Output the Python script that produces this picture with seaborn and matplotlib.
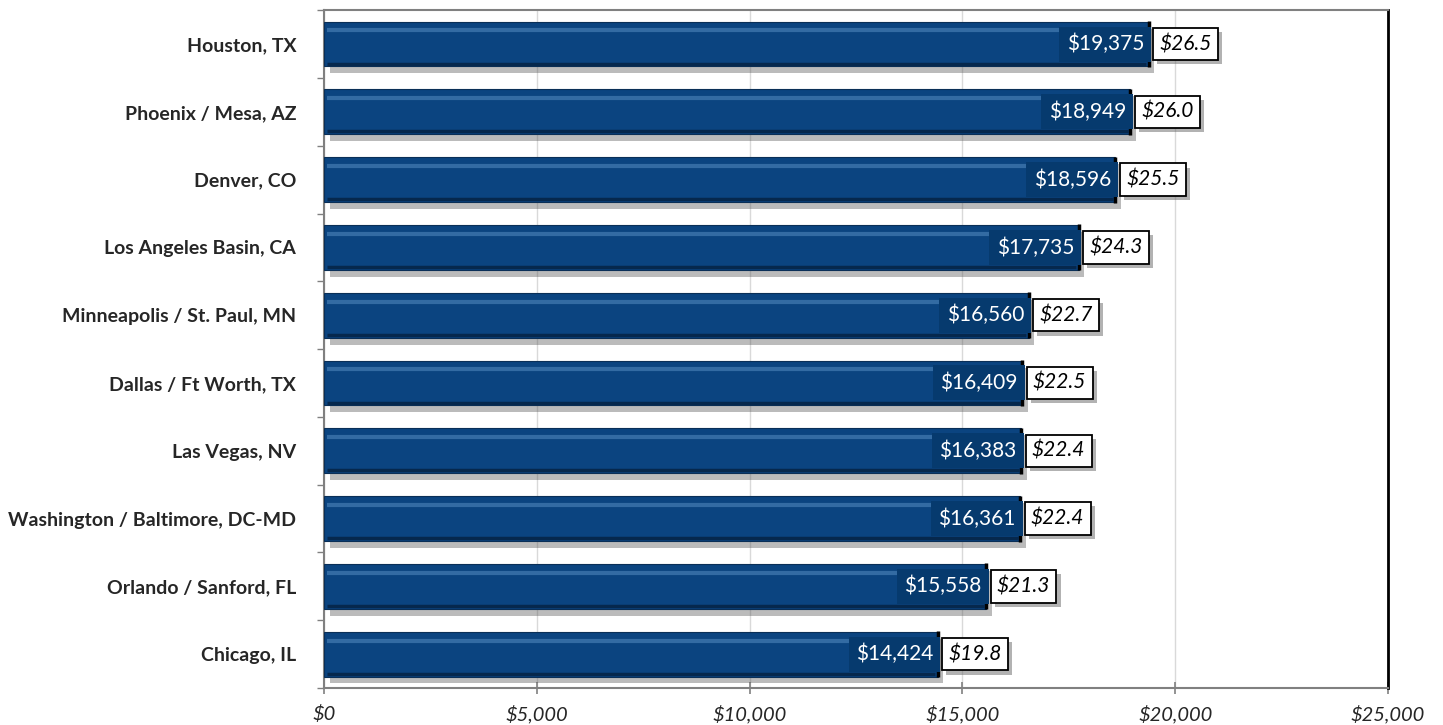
import numpy as np
import pandas as pd
import matplotlib
matplotlib.use("Agg")
import matplotlib.pyplot as plt
import matplotlib.patheffects as pe
from matplotlib.ticker import FuncFormatter, MultipleLocator
import seaborn as sns

# Данные
cities = ["Houston, TX", "Phoenix / Mesa, AZ", "Denver, CO", "Los Angeles Basin, CA",
          "Minneapolis / St. Paul, MN", "Dallas / Ft Worth, TX", "Las Vegas, NV",
          "Washington / Baltimore, DC-MD", "Orlando / Sanford, FL", "Chicago, IL"]
cost = [19375, 18949, 18596, 17735, 16560, 16409, 16383, 16361, 15558, 14424]
ratio = [26.5, 26.0, 25.5, 24.3, 22.7, 22.5, 22.4, 22.4, 21.3, 19.8]

sns.set_theme(style="white")
plt.rcParams['font.family'] = ['Lato', 'DejaVu Sans']

df = pd.DataFrame({'city': cities, 'cost': cost, 'ratio': ratio})

fig = plt.figure(figsize=(14.43, 7.25), dpi=100)
ax = fig.add_axes([0.2245, 0.051, 0.7374, 0.935])

BAR = '#0b4480'
sns.barplot(data=df, y='city', x='cost', orient='h', color=BAR, saturation=1,
            width=0.66, ax=ax, zorder=3)

shadow = [pe.SimplePatchShadow(offset=(4, -5), shadow_rgbFace='#555555', alpha=0.4), pe.Normal()]
for p in ax.patches:
    p.set_edgecolor('#0a2f57')
    p.set_linewidth(0.8)
    p.set_path_effects(shadow)

# блик сверху бара
for i, v in enumerate(cost):
    ax.plot([60, v - 60], [i - 0.2, i - 0.2], color='#3e76ad', lw=3, alpha=0.8,
            solid_capstyle='butt', zorder=4)
    ax.plot([60, v - 60], [i + 0.29, i + 0.29], color='#06284d', lw=2.5,
            solid_capstyle='butt', zorder=4)

# торец бара
ax.vlines(cost, np.arange(len(cost)) - 0.34, np.arange(len(cost)) + 0.34,
          color='black', lw=2.5, zorder=5)

for i, (v, r) in enumerate(zip(cost, ratio)):
    ax.text(v - 110, i, f"${v:,}", ha='right', va='center', color='white', fontsize=15,
            zorder=6, bbox=dict(boxstyle='square,pad=0.35', fc='#063a6e', ec='none'))
    t = ax.text(v + 250, i, f"${r:.1f}", ha='left', va='center', color='black', fontsize=15,
                style='italic', zorder=6,
                bbox=dict(boxstyle='square,pad=0.3', fc='white', ec='black', lw=1.3))
    t.get_bbox_patch().set_path_effects(
        [pe.SimplePatchShadow(offset=(3, -3), shadow_rgbFace='#666666', alpha=0.5), pe.Normal()])

ax.set_xlim(0, 25000)
ax.set_ylim(9.5, -0.5)
ax.xaxis.set_major_locator(MultipleLocator(5000))
ax.xaxis.set_major_formatter(FuncFormatter(lambda x, _: f"${x:,.0f}"))
ax.grid(axis='x', color='#d9d9d9', lw=1, zorder=0)
ax.set_axisbelow(True)
ax.set_xlabel('')
ax.set_ylabel('')

for lab in ax.get_xticklabels():
    lab.set_fontstyle('italic')
    lab.set_fontsize(14.5)
for lab in ax.get_yticklabels():
    lab.set_fontweight('bold')
    lab.set_fontsize(14)

ax.tick_params(axis='x', direction='inout', length=8, width=1.2, color='#808080', pad=8, bottom=True)
ax.tick_params(axis='y', which='major', length=0, pad=20)
ax.set_yticks(np.arange(-0.5, 10, 1), minor=True)
ax.tick_params(axis='y', which='minor', direction='out', length=5, width=1, color='#808080', left=True)

for s in ['left', 'bottom', 'top']:
    ax.spines[s].set_color('#808080')
    ax.spines[s].set_linewidth(1.5)
ax.spines['right'].set_color('black')
ax.spines['right'].set_linewidth(2)

fig.savefig('out.png', dpi=100)
